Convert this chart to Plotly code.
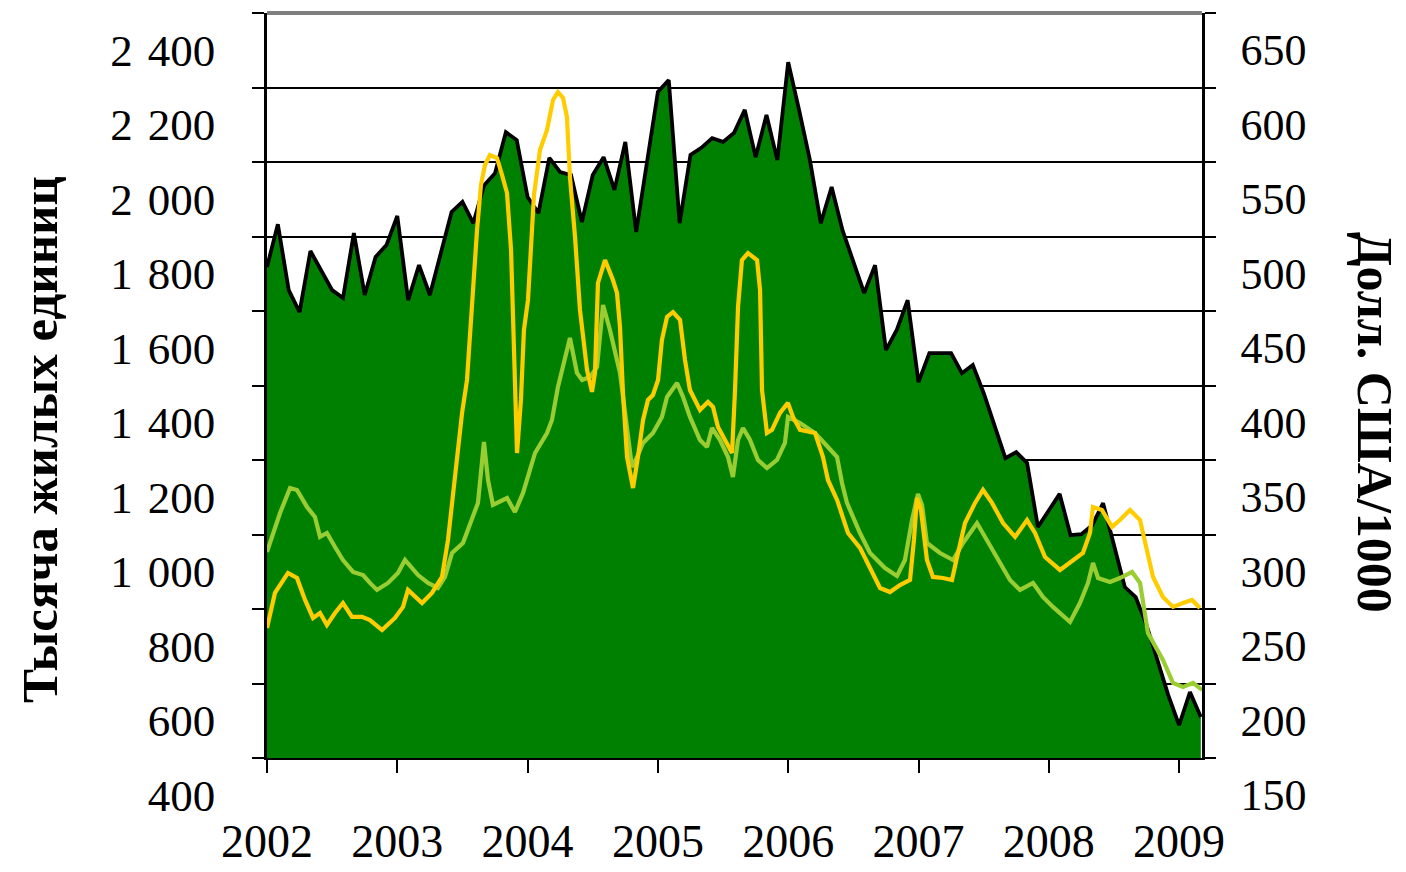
import plotly.graph_objects as go

# ---- Data ----
start_year = 2002
# Housing starts, thousand units, monthly from Jan 2002
housing_starts = [
    1718, 1833, 1656, 1597, 1761, 1710, 1656, 1635, 1809, 1643, 1745, 1777,
    1855, 1629, 1723, 1643, 1756, 1866, 1893, 1836, 1938, 1970, 2080, 2059,
    1906, 1863, 2011, 1973, 1965, 1839, 1965, 2013, 1925, 2054, 1812, 2005,
    2188, 2220, 1836, 2019, 2038, 2064, 2054, 2078, 2140, 2013, 2126, 2005,
    2268, 2140, 2005, 1836, 1933, 1817, 1731, 1648, 1723, 1495, 1549, 1629,
    1409, 1487, 1487, 1487, 1433, 1455, 1380, 1294, 1205, 1221, 1192, 1020,
    1066, 1109, 998, 1001, 1025, 1084, 972, 859, 832, 757, 663, 569,
    488, 577, 510,
]

# Light-green price series (USD/1000), time in years after Jan 2002
lime_t = [0.000, 0.100, 0.177, 0.230, 0.307, 0.368, 0.407, 0.460, 0.522, 0.583, 0.660, 0.737,
          0.790, 0.844, 0.929, 1.005, 1.059, 1.113, 1.159, 1.236, 1.312, 1.366, 1.420, 1.504,
          1.573, 1.619, 1.665, 1.696, 1.734, 1.788, 1.842, 1.903, 1.965, 2.018, 2.057, 2.149,
          2.187, 2.233, 2.287, 2.325, 2.379, 2.418, 2.479, 2.533, 2.579, 2.632, 2.709, 2.763,
          2.801, 2.840, 2.886, 2.962, 3.031, 3.070, 3.147, 3.193, 3.246, 3.323, 3.377, 3.415,
          3.477, 3.538, 3.576, 3.615, 3.653, 3.707, 3.768, 3.837, 3.914, 3.975, 3.998, 4.091,
          4.206, 4.305, 4.375, 4.413, 4.451, 4.551, 4.628, 4.743, 4.835, 4.896, 4.950, 4.996,
          5.027, 5.065, 5.165, 5.265, 5.342, 5.449, 5.526, 5.626, 5.702, 5.779, 5.879, 5.955,
          6.032, 6.163, 6.239, 6.301, 6.339, 6.378, 6.470, 6.546, 6.639, 6.700, 6.761, 6.876,
          6.953, 7.030, 7.107, 7.176]
lime_v = [288.3, 314.4, 331.2, 329.9, 318.5, 311.8, 298.4, 301.0, 291.6, 282.9, 274.9, 272.8,
          267.5, 262.8, 267.5, 274.2, 282.9, 277.5, 272.8, 267.5, 264.1, 271.5, 287.6, 294.3,
          309.7, 321.2, 362.1, 336.6, 319.8, 321.8, 324.5, 315.1, 327.9, 343.3, 354.7, 368.1,
          376.9, 399.0, 419.1, 431.9, 408.4, 403.7, 405.7, 412.4, 454.0, 437.3, 408.4, 372.2,
          345.3, 352.0, 361.4, 368.1, 378.9, 392.3, 401.7, 392.3, 378.9, 363.4, 358.7, 371.5,
          363.4, 352.0, 338.6, 363.4, 371.5, 363.4, 350.0, 344.6, 350.0, 361.4, 378.9, 374.8,
          368.1, 358.7, 352.0, 334.6, 321.2, 301.0, 287.6, 277.5, 272.2, 282.9, 309.7, 327.2,
          319.8, 294.3, 287.6, 282.9, 294.3, 307.7, 296.3, 280.9, 269.5, 262.8, 267.5, 258.1,
          251.4, 241.3, 254.0, 267.5, 280.9, 270.8, 268.1, 270.8, 274.9, 267.5, 233.9, 215.8,
          200.4, 197.7, 200.4, 195.7]

# Yellow price series (USD/1000)
gold_t = [0.000, 0.061, 0.161, 0.230, 0.292, 0.353, 0.407, 0.460, 0.522, 0.583, 0.652, 0.729,
          0.790, 0.883, 0.982, 1.044, 1.082, 1.136, 1.190, 1.266, 1.343, 1.389, 1.443, 1.497,
          1.535, 1.573, 1.612, 1.642, 1.673, 1.711, 1.765, 1.804, 1.842, 1.873, 1.888, 1.903,
          1.919, 1.949, 1.972, 2.003, 2.026, 2.049, 2.095, 2.149, 2.195, 2.233, 2.272, 2.302,
          2.325, 2.364, 2.402, 2.456, 2.494, 2.517, 2.540, 2.594, 2.655, 2.686, 2.709, 2.732,
          2.763, 2.809, 2.847, 2.886, 2.924, 2.962, 3.001, 3.031, 3.070, 3.116, 3.170, 3.208,
          3.246, 3.323, 3.384, 3.423, 3.461, 3.515, 3.569, 3.592, 3.615, 3.645, 3.691, 3.761,
          3.784, 3.799, 3.837, 3.876, 3.937, 3.998, 4.037, 4.091, 4.206, 4.267, 4.305, 4.375,
          4.421, 4.459, 4.551, 4.628, 4.705, 4.781, 4.858, 4.935, 4.965, 4.988, 5.019, 5.065,
          5.111, 5.188, 5.257, 5.296, 5.357, 5.434, 5.495, 5.564, 5.649, 5.741, 5.833, 5.894,
          5.971, 6.086, 6.163, 6.262, 6.316, 6.339, 6.408, 6.485, 6.546, 6.623, 6.700, 6.754,
          6.800, 6.876, 6.953, 7.030, 7.099, 7.160]
gold_v = [237.3, 260.8, 274.2, 270.8, 256.1, 244.0, 247.3, 239.3, 247.3, 254.0, 244.7, 244.7,
          242.6, 235.9, 244.0, 251.4, 262.8, 258.1, 254.0, 260.8, 271.5, 296.3, 336.6, 381.6,
          403.7, 457.4, 504.4, 534.6, 548.0, 554.7, 552.7, 541.3, 529.2, 491.0, 446.0, 390.3,
          354.7, 390.3, 437.3, 457.4, 491.0, 527.9, 558.1, 571.5, 591.6, 597.0, 593.0, 580.2,
          539.9, 499.7, 450.7, 410.4, 395.7, 408.4, 468.8, 484.2, 470.8, 462.1, 439.3, 395.0,
          352.0, 331.2, 352.0, 376.9, 390.3, 393.6, 403.7, 430.6, 446.0, 449.3, 444.0, 417.1,
          397.0, 383.6, 388.9, 385.6, 372.2, 363.4, 354.7, 397.0, 452.7, 484.2, 488.9, 484.2,
          464.1, 397.0, 368.1, 370.2, 381.6, 388.3, 378.9, 370.2, 368.1, 352.0, 336.6, 323.2,
          311.8, 301.0, 291.0, 277.5, 264.1, 261.4, 266.1, 269.5, 296.3, 324.5, 316.5, 282.9,
          271.5, 270.8, 269.5, 284.9, 307.7, 321.2, 329.9, 321.2, 307.7, 298.4, 309.7, 301.0,
          284.9, 276.2, 280.9, 287.6, 301.0, 318.5, 316.5, 305.1, 309.7, 316.5, 309.7, 289.6,
          271.5, 258.1, 251.4, 254.0, 256.1, 250.7]

left_ticks = [400, 600, 800, 1000, 1200, 1400, 1600, 1800, 2000, 2200, 2400]
left_labels = ["400", "600", "800", "1\u2004000", "1\u2004200", "1\u2004400", "1\u2004600",
               "1\u2004800", "2\u2004000", "2\u2004200", "2\u2004400"]
right_ticks = [150, 200, 250, 300, 350, 400, 450, 500, 550, 600, 650]
year_ticks = [2002, 2003, 2004, 2005, 2006, 2007, 2008, 2009]
left_title = "Тысяча жилых единиц"
right_title = "Долл. США/1000"

months_x = [start_year + i / 12 for i in range(len(housing_starts))]
lime_x = [start_year + t for t in lime_t]
gold_x = [start_year + t for t in gold_t]

SERIF = "Liberation Serif"

fig = go.Figure()
fig.add_trace(go.Scatter(x=months_x, y=housing_starts, mode="lines", fill="tozeroy",
                         fillcolor="#008000", line=dict(color="black", width=3.8),
                         showlegend=False, hoverinfo="skip"))
fig.add_trace(go.Scatter(x=lime_x, y=lime_v, mode="lines", yaxis="y2",
                         line=dict(color="#9ACD32", width=4.2), showlegend=False))
fig.add_trace(go.Scatter(x=gold_x, y=gold_v, mode="lines", yaxis="y2",
                         line=dict(color="#FFCC00", width=4.2), showlegend=False))

# The page body adds an 8 px offset; plot area spans x 267..1202, y 13..758 on screen
OFF = 8
W, H = 1406 - OFF, 872 - OFF
L = 267 - OFF
T = 13 - OFF
R = W - (1202 - OFF)
B = H - (758 - OFF)
PW, PH = 1202 - 267, 758 - 13

fig.update_layout(
    width=W, height=H,
    margin=dict(l=L, r=R, t=T, b=B, autoexpand=False),
    paper_bgcolor="white", plot_bgcolor="white",
    xaxis=dict(range=[2002, 2002 + PW / 130.3], tickvals=year_ticks,
               ticktext=[str(y) for y in year_ticks], automargin=False,
               ticks="outside", ticklen=13, tickwidth=2, tickcolor="black",
               showgrid=False, zeroline=False, showline=True, linecolor="black", linewidth=2,
               tickfont=dict(family=SERIF, size=46, color="black"),
               ticklabelstandoff=29),
    yaxis=dict(range=[400, 2400], tickvals=left_ticks, ticktext=left_labels, automargin=False,
               ticks="outside", ticklen=12, tickwidth=2, tickcolor="black",
               showgrid=True, gridcolor="black", gridwidth=1.5, zeroline=False,
               showline=True, linecolor="black", linewidth=2.5,
               tickfont=dict(family=SERIF, size=45, color="black"),
               ticklabelshift=37, ticklabelstandoff=28),
    yaxis2=dict(range=[150, 650], tickvals=right_ticks, ticktext=[str(v) for v in right_ticks],
                overlaying="y", side="right", automargin=False,
                ticks="outside", ticklen=11, tickwidth=2, tickcolor="black",
                showgrid=False, zeroline=False,
                showline=True, linecolor="black", linewidth=2.5,
                tickfont=dict(family=SERIF, size=44, color="black"),
                ticklabelshift=37, ticklabelstandoff=16),
    shapes=[dict(type="line", xref="paper", yref="paper", x0=0, x1=1, y0=1, y1=1,
                 line=dict(color="#7f7f7f", width=4))],
    annotations=[
        dict(text=f"<b>{left_title}</b>", xref="paper", yref="paper",
             x=(40 - 267) / PW, y=(758 - 440) / PH, textangle=-90, showarrow=False,
             font=dict(family=SERIF, size=51, color="black"), xanchor="center", yanchor="middle"),
        dict(text=f"<b>{right_title}</b>", xref="paper", yref="paper",
             x=(1375 - 267) / PW, y=(758 - 422) / PH, textangle=90, showarrow=False,
             font=dict(family=SERIF, size=50, color="black"), xanchor="center", yanchor="middle"),
    ],
)

fig.write_html("out.html")
